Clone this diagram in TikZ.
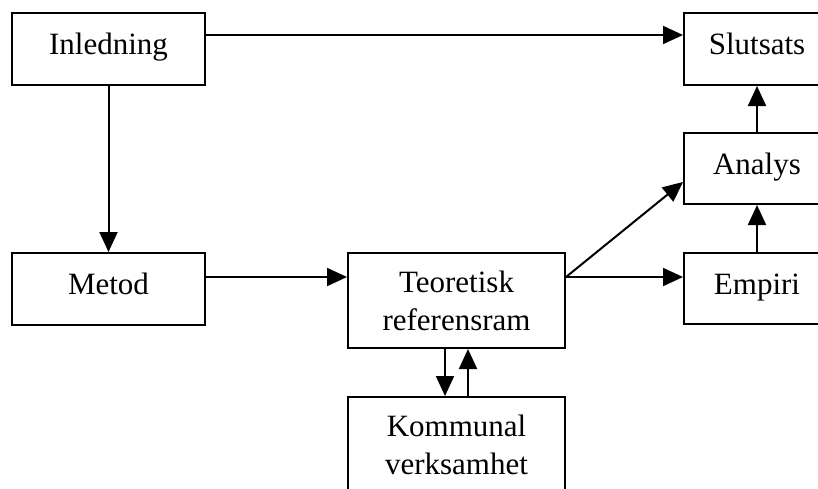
\documentclass[tikz,border=0pt]{standalone}
\usepackage{fontspec}
\setmainfont{Liberation Serif}
\usetikzlibrary{arrows.meta}
\begin{document}
\begin{tikzpicture}[x=1pt,y=-1pt,
  box/.style={draw, line width=2pt, inner sep=0pt, align=center,
    font=\fontsize{31}{38}\selectfont},
  onebox/.style={box, text height=21pt, text depth=10pt},
  arr/.style={line width=2pt, -{Triangle[length=20pt,width=18pt]}}]
  \clip (0,0) rectangle (818,488);
  % left column
  \node[onebox, minimum width=193pt, minimum height=72pt] (inl) at (108.5,49) {Inledning};
  \node[onebox, minimum width=193pt, minimum height=72pt] (met) at (108.5,289) {Metod};
  % middle column
  \node[box, minimum width=217pt, minimum height=95pt] (teo) at (456.5,300.5) {Teoretisk\\referensram};
  \node[box, minimum width=217pt, minimum height=95pt] (kom) at (456.5,444.5) {Kommunal\\verksamhet};
  % right column
  \node[onebox, minimum width=146pt, minimum height=72pt] (slut) at (757,49) {Slutsats};
  \node[onebox, minimum width=146pt, minimum height=71pt] (ana) at (757,168.5) {Analys};
  \node[onebox, minimum width=146pt, minimum height=71pt] (emp) at (757,288.5) {Empiri};
  % connectors
  \draw[arr] ([yshift=14pt]inl.east) -- ([yshift=14pt]slut.west);
  \draw[arr] (inl.south) -- (met.north);
  \draw[arr] ([yshift=12pt]met.east) -- ([yshift=12pt]met.east -| teo.west);
  \draw[arr] ([yshift=11.5pt]emp.west -| teo.east) -- ([yshift=11.5pt]emp.west);
  \draw[arr] ([yshift=11.5pt]emp.west -| teo.east) -- ([yshift=-13.5pt]ana.west);
  \draw[arr] (emp.north) -- (ana.south);
  \draw[arr] (ana.north) -- (slut.south);
  \draw[arr] ([xshift=-11.5pt]teo.south) -- ([xshift=-11.5pt]kom.north);
  \draw[arr] ([xshift=11.5pt]kom.north) -- ([xshift=11.5pt]teo.south);
\end{tikzpicture}
\end{document}
